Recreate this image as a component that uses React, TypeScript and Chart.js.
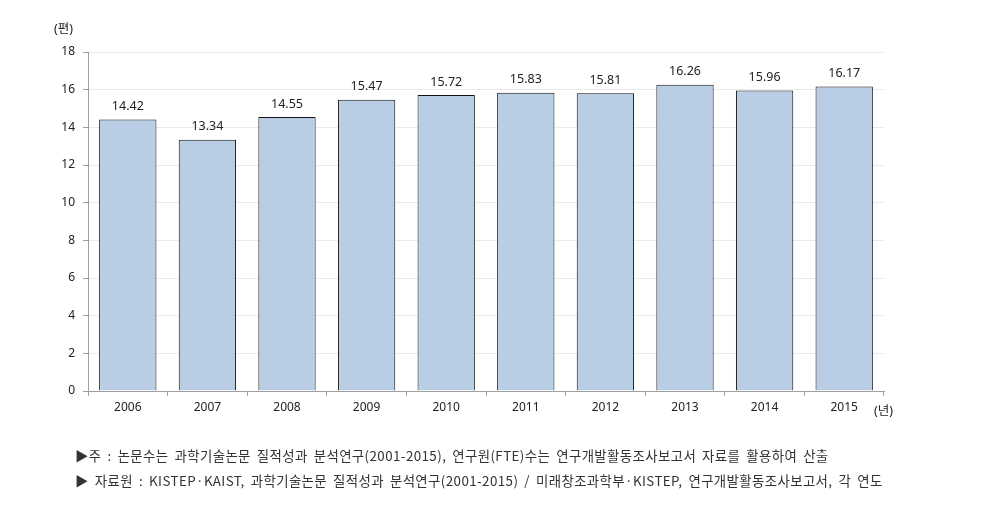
import React, { useEffect, useRef } from "react";
import { Chart, registerables } from "chart.js";

Chart.register(...registerables);

const years = ["2006", "2007", "2008", "2009", "2010", "2011", "2012", "2013", "2014", "2015"];
const papersPerResearcher = [14.42, 13.34, 14.55, 15.47, 15.72, 15.83, 15.81, 16.26, 15.96, 16.17];
const yTicks = [0, 2, 4, 6, 8, 10, 12, 14, 16, 18];
const yUnit = "(편)";
const xUnit = "(년)";
const note1 = "▶주 : 논문수는 과학기술논문 질적성과 분석연구(2001-2015), 연구원(FTE)수는 연구개발활동조사보고서 자료를 활용하여 산출";
const note2 = "▶ 자료원 : KISTEP·KAIST, 과학기술논문 질적성과 분석연구(2001-2015) / 미래창조과학부·KISTEP, 연구개발활동조사보고서, 각 연도";

const W = 987;
const H = 516;
const FONT = "'Noto Sans', 'Noto Sans CJK KR', sans-serif";

export default function App() {
  const ref = useRef<HTMLCanvasElement | null>(null);

  useEffect(() => {
    if (!ref.current) return;
    const labelPlugin = {
      id: "barLabels",
      afterDatasetsDraw(chart: any) {
        const ctx = chart.ctx;
        const meta = chart.getDatasetMeta(0);
        ctx.save();
        ctx.font = `12.5px ${FONT}`;
        ctx.fillStyle = "#222";
        ctx.textAlign = "center";
        ctx.textBaseline = "middle";
        meta.data.forEach((bar: any, i: number) => {
          ctx.fillText(papersPerResearcher[i].toFixed(2), bar.x, bar.y - 13);
        });
        ctx.restore();
      },
    };
    const chart = new Chart(ref.current, {
      type: "bar",
      data: {
        labels: years,
        datasets: [
          {
            data: papersPerResearcher,
            backgroundColor: "#B9CDE5",
            borderColor: "#111",
            borderWidth: 1,
            categoryPercentage: 1,
            barPercentage: 0.72,
          },
        ],
      },
      options: {
        responsive: false,
        animation: false,
        devicePixelRatio: 1,
        layout: { padding: { left: 0, right: 103, top: 52, bottom: 100 } },
        plugins: { legend: { display: false }, tooltip: { enabled: false } },
        scales: {
          x: {
            offset: true,
            grid: {
              offset: true,
              drawOnChartArea: false,
              drawTicks: true,
              tickLength: 5,
              color: "#A0A0A0",
            },
            border: { color: "#A0A0A0" },
            ticks: { color: "#222", font: { family: FONT, size: 12 }, padding: 4 },
            afterFit(scale: any) {
              scale.height = 25;
            },
          },
          y: {
            min: 0,
            max: 18,
            afterBuildTicks(scale: any) {
              scale.ticks = yTicks.map((v) => ({ value: v }));
            },
            grid: {
              color: "#EBEBEB",
              tickLength: 5,
              drawTicks: true,
              tickColor: "#A0A0A0",
            },
            border: { color: "#A0A0A0" },
            ticks: { color: "#222", font: { family: FONT, size: 12 }, padding: 8 },
            afterFit(scale: any) {
              scale.width = 88;
            },
          },
        },
      },
      plugins: [labelPlugin],
    });
    return () => chart.destroy();
  }, []);

  const noteStyle: React.CSSProperties = {
    position: "absolute",
    left: 75,
    fontFamily: "'Noto Sans CJK KR', sans-serif",
    fontSize: 13.4,
    color: "#333",
    whiteSpace: "nowrap",
    lineHeight: "16px",
    letterSpacing: "0.4px",
    wordSpacing: "2.6px",
  };

  return (
    <div style={{ position: "absolute", left: 0, top: 0, width: W, height: H, background: "#fff" }}>
      <canvas ref={ref} width={W} height={H} style={{ position: "absolute", left: 0, top: 0 }} />
      <div style={{ position: "absolute", left: 54, top: 18, fontFamily: FONT, fontSize: 12.5, color: "#222" }}>{yUnit}</div>
      <div style={{ position: "absolute", left: 874, top: 400, fontFamily: FONT, fontSize: 12.5, color: "#222" }}>{xUnit}</div>
      <div style={{ ...noteStyle, top: 447 }}>{note1}</div>
      <div style={{ ...noteStyle, top: 472 }}>{note2}</div>
    </div>
  );
}
